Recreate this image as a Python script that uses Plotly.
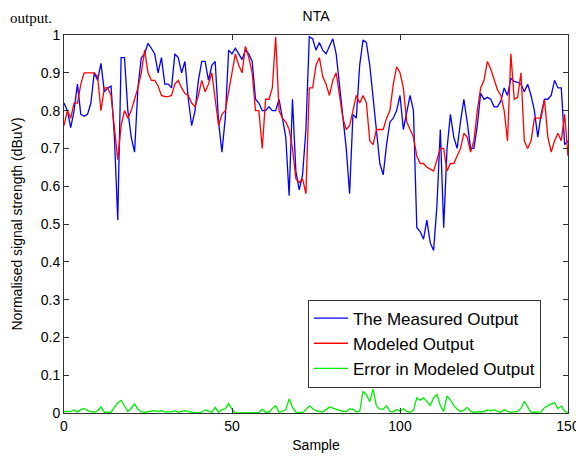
import plotly.graph_objects as go

samples = list(range(151))

measured = [0.82, 0.80, 0.755, 0.80, 0.87, 0.79, 0.785, 0.79, 0.82, 0.90,
            0.88, 0.925, 0.85, 0.86, 0.865, 0.73, 0.51, 0.94, 0.94, 0.80,
            0.73, 0.69, 0.86, 0.94, 0.95, 0.978, 0.965, 0.95, 0.90, 0.94,
            0.87, 0.87, 0.86, 0.95, 0.94, 0.90, 0.93, 0.83, 0.76, 0.80,
            0.88, 0.93, 0.93, 0.88, 0.92, 0.93, 0.77, 0.69, 0.78, 0.96,
            0.95, 0.965, 0.95, 0.935, 0.96, 0.95, 0.93, 0.83, 0.82, 0.80,
            0.80, 0.81, 0.80, 0.80, 0.83, 0.78, 0.73, 0.575, 0.83, 0.64,
            0.59, 0.63, 0.75, 0.995, 0.99, 0.96, 0.98, 0.96, 0.95, 0.97,
            0.99, 0.95, 0.87, 0.78, 0.70, 0.58, 0.79, 0.78, 0.92, 0.987,
            0.98, 0.92, 0.83, 0.75, 0.66, 0.63, 0.71, 0.77, 0.78, 0.80,
            0.84, 0.75, 0.80, 0.84, 0.80, 0.49, 0.48, 0.46, 0.51, 0.45,
            0.43, 0.55, 0.75, 0.49, 0.70, 0.79, 0.73, 0.70, 0.77, 0.83,
            0.77, 0.70, 0.70, 0.76, 0.846, 0.83, 0.835, 0.83, 0.81, 0.81,
            0.825, 0.86, 0.84, 0.886, 0.877, 0.875, 0.87, 0.85, 0.87, 0.84,
            0.80, 0.73, 0.79, 0.83, 0.83, 0.84, 0.88, 0.86, 0.86, 0.71,
            0.72]

modeled = [0.76, 0.80, 0.78, 0.82, 0.82, 0.87, 0.90, 0.90, 0.90, 0.90,
           0.89, 0.80, 0.86, 0.86, 0.84, 0.75, 0.67, 0.76, 0.80, 0.78,
           0.80, 0.83, 0.86, 0.90, 0.96, 0.90, 0.88, 0.88, 0.865, 0.84,
           0.837, 0.837, 0.84, 0.87, 0.88, 0.86, 0.845, 0.84, 0.82, 0.81,
           0.84, 0.88, 0.85, 0.87, 0.90, 0.83, 0.76, 0.79, 0.80, 0.85,
           0.90, 0.95, 0.92, 0.90, 0.97, 0.94, 0.90, 0.80, 0.80, 0.70,
           0.83, 0.83, 0.86, 0.995, 0.80, 0.78, 0.77, 0.75, 0.70, 0.62,
           0.61, 0.62, 0.58, 0.86, 0.86, 0.92, 0.94, 0.89, 0.87, 0.84,
           0.88, 0.90, 0.84, 0.78, 0.75, 0.76, 0.80, 0.84, 0.82, 0.84,
           0.82, 0.72, 0.71, 0.75, 0.75, 0.75, 0.78, 0.80, 0.87, 0.916,
           0.90, 0.86, 0.77, 0.75, 0.73, 0.68, 0.66, 0.66, 0.65, 0.645,
           0.64, 0.67, 0.70, 0.70, 0.64, 0.66, 0.66, 0.68, 0.70, 0.74,
           0.73, 0.69, 0.72, 0.80, 0.86, 0.88, 0.93, 0.91, 0.88, 0.855,
           0.84, 0.80, 0.72, 0.95, 0.83, 0.835, 0.90, 0.72, 0.70, 0.72,
           0.78, 0.78, 0.78, 0.83, 0.73, 0.69, 0.72, 0.74, 0.72, 0.79,
           0.68]

error = [0.004, 0.004, 0.004, 0.008, 0.003, 0.009, 0.012, 0.006, 0.003, 0.002,
         0.006, 0.016, 0.002, 0.002, 0.002, 0.015, 0.027, 0.033, 0.020, 0.004,
         0.012, 0.024, 0.010, 0.003, 0.002, 0.004, 0.005, 0.006, 0.004, 0.006,
         0.003, 0.002, 0.003, 0.006, 0.002, 0.004, 0.006, 0.004, 0.002, 0.001,
         0.001, 0.002, 0.008, 0.004, 0.002, 0.015, 0.002, 0.009, 0.011, 0.025,
         0.010, 0.000, 0.000, 0.000, 0.000, 0.000, 0.000, 0.000, 0.001, 0.010,
         0.002, 0.002, 0.012, 0.019, 0.002, 0.004, 0.009, 0.037, 0.015, 0.002,
         0.001, 0.001, 0.009, 0.019, 0.012, 0.006, 0.004, 0.003, 0.009, 0.016,
         0.013, 0.011, 0.007, 0.004, 0.004, 0.011, 0.010, 0.003, 0.004, 0.057,
         0.049, 0.030, 0.063, 0.018, 0.010, 0.010, 0.019, 0.004, 0.003, 0.009,
         0.005, 0.011, 0.004, 0.002, 0.007, 0.040, 0.034, 0.040, 0.030, 0.020,
         0.040, 0.049, 0.020, 0.004, 0.045, 0.035, 0.020, 0.010, 0.004, 0.007,
         0.015, 0.004, 0.002, 0.002, 0.004, 0.004, 0.008, 0.006, 0.009, 0.004,
         0.002, 0.009, 0.004, 0.002, 0.003, 0.004, 0.012, 0.031, 0.016, 0.002,
         0.002, 0.002, 0.003, 0.014, 0.020, 0.024, 0.027, 0.012, 0.018, 0.005,
         0.000]

series_names = ["The Measured Output", "Modeled Output", "Error in Modeled Output"]
series_colors = ["#0000ff", "#ff0000", "#00ee00"]

x_ticks = [0, 50, 100, 150]
y_ticks = [round(i * 0.1, 1) for i in range(11)]
y_tick_labels = ["0", "0.1", "0.2", "0.3", "0.4", "0.5", "0.6", "0.7", "0.8", "0.9", "1"]

FONT = "Arial, Liberation Sans, sans-serif"

fig = go.Figure()
for name, vals, col in zip(series_names, [measured, modeled, error], series_colors):
    fig.add_trace(go.Scatter(x=samples, y=vals, mode="lines", name=name,
                             line=dict(color=col, width=1.3)))

axis_common = dict(showline=True, linecolor="#333333", linewidth=1, mirror="ticks",
                   ticks="inside", ticklen=5, tickcolor="#333333", showgrid=False,
                   zeroline=False, automargin=False,
                   tickfont=dict(family=FONT, size=14, color="black"))

# the page body adds an 8px offset; the figure is sized to fit the window
fig.update_layout(
    width=576, height=449,
    margin=dict(l=56, r=16, t=27, b=44),
    paper_bgcolor="white", plot_bgcolor="white",
    font=dict(family=FONT, size=14, color="black"),
    title=dict(text="NTA", x=0.5, xref="paper", xanchor="center", y=0.981, yanchor="middle",
               font=dict(family=FONT, size=14, color="black")),
    xaxis=dict(range=[0, 150], tickvals=x_ticks,
               title=dict(text="Sample", standoff=7, font=dict(family=FONT, size=14)),
               **axis_common),
    yaxis=dict(range=[0, 1], tickvals=y_ticks, ticktext=y_tick_labels,
               title=dict(text="Normalised signal strength (dBuV)", standoff=14,
                          font=dict(family=FONT, size=14)),
               **axis_common),
    legend=dict(x=0.484, y=0.30, xanchor="left", yanchor="top",
                bordercolor="#333333", borderwidth=1, bgcolor="white",
                font=dict(family=FONT, size=17), tracegroupgap=0, itemwidth=34),
    showlegend=True,
)

fig.add_annotation(text="output.", xref="paper", yref="paper", x=-0.111, y=1.0714,
                   xanchor="left", yanchor="top", showarrow=False,
                   font=dict(family="Liberation Serif, Times New Roman", size=15, color="black"))

fig.write_html("out.html")
